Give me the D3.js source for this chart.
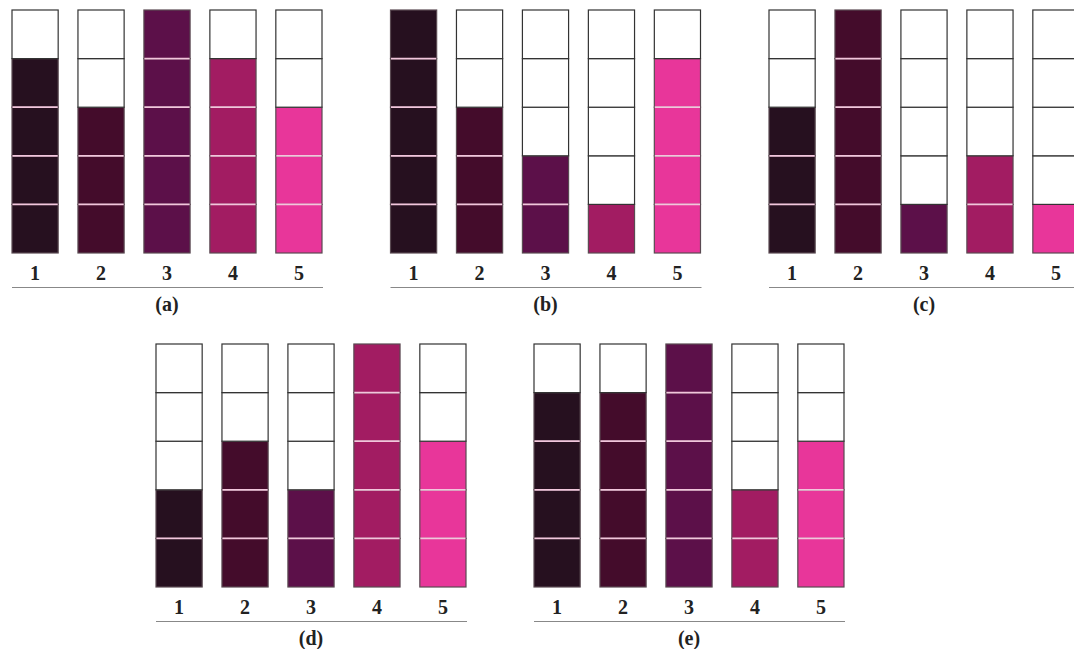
<!DOCTYPE html>
<html lang="en">
    <head>
        <script type="text/javascript" src="https://cdn.jsdelivr.net/npm/d3@7"></script>
        <title>Cell columns</title>
        <style type="text/css">
            body { margin: 0; background: #fff; }
            text { font-family: "Liberation Serif", "Times New Roman", Times, serif; font-weight: bold; }
        </style>
    </head>
    <body>
        <script type="text/javascript">
            var w = 1074;
            var h = 649;

            // data
            var columns = ["1", "2", "3", "4", "5"];
            var panelNames = ["(a)", "(b)", "(c)", "(d)", "(e)"];
            var levelsA = [4, 3, 5, 4, 3];
            var levelsB = [5, 3, 2, 1, 4];
            var levelsC = [3, 5, 1, 2, 1];
            var levelsD = [2, 3, 2, 5, 3];
            var levelsE = [4, 4, 5, 2, 3];
            var colors = ["#26101f", "#440c2b", "#5c1049", "#a21c62", "#e8369a"];
            var cellsPerColumn = 5;

            var panels = [levelsA, levelsB, levelsC, levelsD, levelsE];

            // panel layout: top row three, bottom row two
            var layout = [
                {x: 12, y: 10}, {x: 390.5, y: 10}, {x: 769, y: 10},
                {x: 156, y: 344}, {x: 534, y: 344}
            ];
            var panelW = 310;
            var panelH = 243;

            var svg = d3.select("body")
                        .append("svg")
                        .attr("width", w)
                        .attr("height", h);

            var xScale = d3.scaleBand()
                            .domain(columns)
                            .range([0, panelW])
                            .paddingInner(0.3);

            var yScale = d3.scaleLinear()
                            .domain([0, cellsPerColumn])
                            .range([panelH, 0]);

            panels.forEach(function(levels, p){
                var g = svg.append("g")
                           .attr("transform", "translate(" + layout[p].x + "," + layout[p].y + ")");

                columns.forEach(function(c, i){
                    var cells = d3.range(cellsPerColumn);
                    var col = g.append("g");

                    // cells, bottom up
                    col.selectAll("rect")
                        .data(cells)
                        .enter()
                        .append("rect")
                        .attr("x", xScale(c))
                        .attr("y", function(k){ return yScale(k + 1); })
                        .attr("width", xScale.bandwidth())
                        .attr("height", function(k){ return yScale(k) - yScale(k + 1); })
                        .attr("fill", function(k){ return k < levels[i] ? colors[i] : "#fff"; })
                        .attr("stroke", function(k){ return k < levels[i] ? "#5a4a52" : "#333"; })
                        .attr("stroke-width", 1.2);

                    // pale separators between filled cells
                    col.selectAll("line")
                        .data(d3.range(1, levels[i]))
                        .enter()
                        .append("line")
                        .attr("x1", xScale(c) + 0.5)
                        .attr("x2", xScale(c) + xScale.bandwidth() - 0.5)
                        .attr("y1", function(k){ return yScale(k); })
                        .attr("y2", function(k){ return yScale(k); })
                        .attr("stroke", "#f2c6dc")
                        .attr("stroke-width", 1.8);

                    // column number
                    g.append("text")
                        .text(c)
                        .attr("x", xScale(c) + xScale.bandwidth() / 2)
                        .attr("y", panelH + 27)
                        .attr("font-size", "20px")
                        .attr("fill", "#222")
                        .attr("text-anchor", "middle");
                });

                // underline
                g.append("line")
                    .attr("x1", 0)
                    .attr("x2", panelW + 1)
                    .attr("y1", panelH + 34.5)
                    .attr("y2", panelH + 34.5)
                    .attr("stroke", "#888")
                    .attr("stroke-width", 1);

                // panel caption
                g.append("text")
                    .text(panelNames[p])
                    .attr("x", panelW / 2)
                    .attr("y", panelH + 58)
                    .attr("font-size", "20px")
                    .attr("fill", "#222")
                    .attr("text-anchor", "middle");
            });
        </script>
    </body>
</html>
